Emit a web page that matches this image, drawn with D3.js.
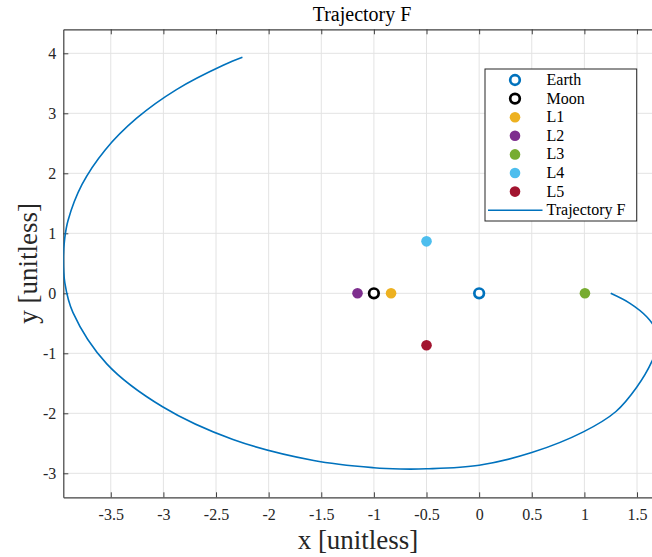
<!DOCTYPE html>
<html><head><meta charset="utf-8">
<script src="https://cdn.jsdelivr.net/npm/d3@7"></script>
<style>body{margin:0;background:#fff}svg{display:block}</style>
</head><body>
<svg id="chart" width="652" height="557"></svg>
<script>
const title = "Trajectory F";
const xLabel = "x [unitless]";
const yLabel = "y [unitless]";
const xTicks = [-3.5,-3,-2.5,-2,-1.5,-1,-0.5,0,0.5,1,1.5];
const yTicks = [-3,-2,-1,0,1,2,3,4];
const xDomain = [-3.951, 1.649];
const yDomain = [-3.4, 4.4];

const bodyNames = ["Earth","Moon","L1","L2","L3","L4","L5"];
const bodyX = [0, -1, -0.8369, -1.1557, 1.0051, -0.5, -0.5];
const bodyY = [0, 0, 0, 0, 0, 0.866, -0.866];
const bodyColors = ["#0072BD","#000000","#EDB120","#7E2F8E","#77AC30","#4DBEEE","#A2142F"];
const bodyOpen = [true, true, false, false, false, false, false];

const trajName = "Trajectory F";
const trajColor = "#0072BD";
const trajX = [1.25,1.433,1.592,1.67,1.70,1.64,1.497,1.30,0.99,0.5,0,-0.5,-0.75,-1.0,-1.572,-2.339,-3.008,-3.538,-3.86,-3.936,-3.95,-3.938,-3.906,-3.773,-3.555,-3.254,-2.876,-2.427,-2.249];
const trajY = [0,-0.167,-0.39,-0.58,-0.82,-1.14,-1.567,-1.97,-2.31,-2.655,-2.865,-2.925,-2.928,-2.907,-2.786,-2.436,-1.891,-1.176,-0.319,0.168,0.6,0.908,1.214,1.814,2.386,2.918,3.395,3.804,3.933];

const FONT = "'Liberation Serif', 'DejaVu Serif', serif";
const m = {left: 63.3, top: 29.3, right: 652.7, bottom: 497.3};
const svg = d3.select("#chart");
const x = d3.scaleLinear().domain(xDomain).range([m.left, m.right]);
const y = d3.scaleLinear().domain(yDomain).range([m.bottom, m.top]);
const W = m.right - m.left, H = m.bottom - m.top;

svg.append("defs").append("clipPath").attr("id","clip")
  .append("rect").attr("x", m.left).attr("y", m.top).attr("width", W).attr("height", H);

// grid
const grid = svg.append("g").attr("stroke","#e3e3e3").attr("stroke-width",1);
xTicks.forEach(t => grid.append("line").attr("x1",x(t)).attr("x2",x(t)).attr("y1",m.top).attr("y2",m.bottom));
yTicks.forEach(t => grid.append("line").attr("y1",y(t)).attr("y2",y(t)).attr("x1",m.left).attr("x2",m.right));

// axes
const axColor = "#404040";
const gx = svg.append("g").attr("transform",`translate(0,${m.bottom})`)
  .call(d3.axisBottom(x).tickValues(xTicks).tickSizeInner(-5).tickSizeOuter(0).tickPadding(11).tickFormat(d => String(d)));
const gxTop = svg.append("g").attr("transform",`translate(0,${m.top})`)
  .call(d3.axisTop(x).tickValues(xTicks).tickSizeInner(-5).tickSizeOuter(0).tickFormat(""));
const gy = svg.append("g").attr("transform",`translate(${m.left},0)`)
  .call(d3.axisLeft(y).tickValues(yTicks).tickSizeInner(-5).tickSizeOuter(0).tickPadding(7).tickFormat(d => String(d)));
[gx,gxTop,gy].forEach(g => {
  g.select(".domain").attr("stroke",axColor).attr("stroke-width",1.2);
  g.selectAll(".tick line").attr("stroke",axColor).attr("stroke-width",1);
  g.selectAll(".tick text").attr("fill","#262626").attr("font-family",FONT).attr("font-size",16);
});

// trajectory
const pts = trajX.map((v,i) => [v, trajY[i]]);
svg.append("path").datum(pts).attr("clip-path","url(#clip)")
  .attr("fill","none").attr("stroke",trajColor).attr("stroke-width",1.6)
  .attr("d", d3.line().x(d => x(d[0])).y(d => y(d[1])).curve(d3.curveCatmullRom.alpha(0.5)));

// bodies
const bodies = bodyNames.map((n,i) => ({n, x: bodyX[i], y: bodyY[i], c: bodyColors[i], open: bodyOpen[i]}));
const drawMarker = (sel, d) => {
  if (d.open) sel.attr("r",4.8).attr("fill","#fff").attr("stroke",d.c).attr("stroke-width",2.7);
  else sel.attr("r",5.3).attr("fill",d.c).attr("stroke","none");
};
bodies.forEach(d => drawMarker(svg.append("circle").attr("cx",x(d.x)).attr("cy",y(d.y)), d));

// title and labels
svg.append("text").attr("x",362).attr("y",21).attr("text-anchor","middle")
  .attr("font-family",FONT).attr("font-size",20).attr("fill","#000").text(title);
svg.append("text").attr("x",(m.left+m.right)/2).attr("y",549).attr("text-anchor","middle")
  .attr("font-family",FONT).attr("font-size",27).attr("fill","#262626").text(xLabel);
svg.append("text").attr("transform",`translate(37,${(m.top+m.bottom)/2}) rotate(-90)`).attr("text-anchor","middle")
  .attr("font-family",FONT).attr("font-size",27).attr("fill","#262626").text(yLabel);

// legend
const lg = svg.append("g");
lg.append("rect").attr("x",485).attr("y",69).attr("width",151.7).attr("height",152)
  .attr("fill","#fff").attr("stroke","#262626").attr("stroke-width",1);
const rowY = i => 80 + i*18.6;
bodies.forEach((d,i) => {
  drawMarker(lg.append("circle").attr("cx",515).attr("cy",rowY(i)), d);
  lg.append("text").attr("x",546.5).attr("y",rowY(i)+5).attr("font-family",FONT).attr("font-size",16)
    .attr("fill","#000").text(d.n);
});
lg.append("line").attr("x1",488).attr("x2",542.5).attr("y1",rowY(7)).attr("y2",rowY(7))
  .attr("stroke",trajColor).attr("stroke-width",1.6);
lg.append("text").attr("x",546.5).attr("y",rowY(7)+5).attr("font-family",FONT).attr("font-size",16)
  .attr("fill","#000").text(trajName);
</script>
</body></html>
